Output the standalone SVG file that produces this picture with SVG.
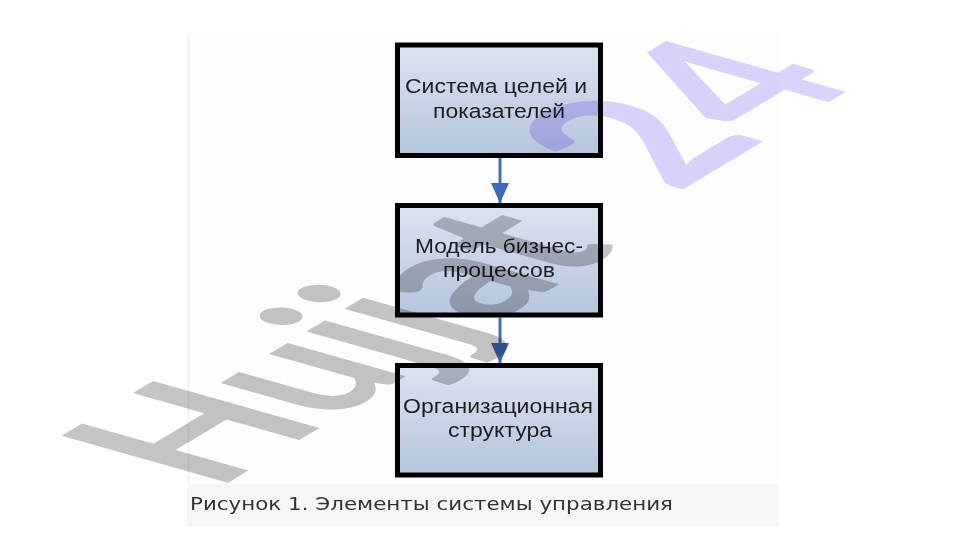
<svg xmlns="http://www.w3.org/2000/svg" width="961" height="540" viewBox="0 0 961 540">
  <style>
    .box { stroke: #000; stroke-width: 5; fill: url(#boxFill); }
    .lbl { font-family: "Liberation Sans", Arial, sans-serif; font-size: 20px; fill: #1e1e1e; }
    .cap { font-family: "DejaVu Sans", Verdana, sans-serif; font-size: 17px; fill: #333; }
    .conn { stroke: #3f6fc0; stroke-width: 3; fill: none; }
    .wm { font-family: Lato, "Liberation Sans", sans-serif; font-weight: 700; font-size: 100px; mix-blend-mode: multiply; }
  </style>
  <defs>
    <linearGradient id="boxFill" x1="0" y1="0" x2="0" y2="1">
      <stop offset="0" stop-color="#dbe3ef"/>
      <stop offset="1" stop-color="#b5c5dd"/>
    </linearGradient>
    <marker id="arrow" markerUnits="userSpaceOnUse" markerWidth="22" markerHeight="18" refX="20" refY="9" orient="auto">
      <path d="M0,0 L20,9 L0,18 Z" fill="#3a69bb"/>
    </marker>
  </defs>
  <rect x="0" y="0" width="961" height="540" fill="#fff"/>
  <rect x="188" y="33" width="590" height="451" fill="#fdfdfd"/>
  <line x1="188.5" y1="33" x2="188.5" y2="484" stroke="#f1f1f1" stroke-width="2"/>
  <rect x="187" y="484" width="592" height="42" fill="#f6f6f6"/>

  <g id="node1">
    <rect class="box" x="397.5" y="45" width="203" height="110.5"/>
    <text class="lbl" x="405" y="92.5" textLength="182" lengthAdjust="spacingAndGlyphs">Система целей и</text>
    <text class="lbl" x="433" y="117.5" textLength="132" lengthAdjust="spacingAndGlyphs">показателей</text>
  </g>
  <g id="node2">
    <rect class="box" x="397.5" y="205.5" width="203" height="109.5"/>
    <text class="lbl" x="415" y="253" textLength="168" lengthAdjust="spacingAndGlyphs">Модель бизнес-</text>
    <text class="lbl" x="443" y="277" textLength="112" lengthAdjust="spacingAndGlyphs">процессов</text>
  </g>
  <g id="node3">
    <rect class="box" x="397.5" y="365.5" width="203" height="109.5"/>
    <text class="lbl" x="403" y="413" textLength="190" lengthAdjust="spacingAndGlyphs">Организационная</text>
    <text class="lbl" x="448" y="436.5" textLength="104" lengthAdjust="spacingAndGlyphs">структура</text>
  </g>

  <g id="connectors">
    <line class="conn" x1="500" y1="158" x2="500" y2="203" marker-end="url(#arrow)"/>
    <line class="conn" x1="500" y1="317" x2="500" y2="363" marker-end="url(#arrow)"/>
  </g>

  <text class="cap" x="190" y="510" textLength="483" lengthAdjust="spacingAndGlyphs">Рисунок 1. Элементы системы управления</text>

  <text class="wm" transform="matrix(1.5 -0.9 2.3 0.65 216 490)"><tspan fill="#c4c4c4">Hujjat</tspan><tspan dx="52" dy="-10" font-size="108" fill="#dcd3fc">24</tspan></text>
</svg>
